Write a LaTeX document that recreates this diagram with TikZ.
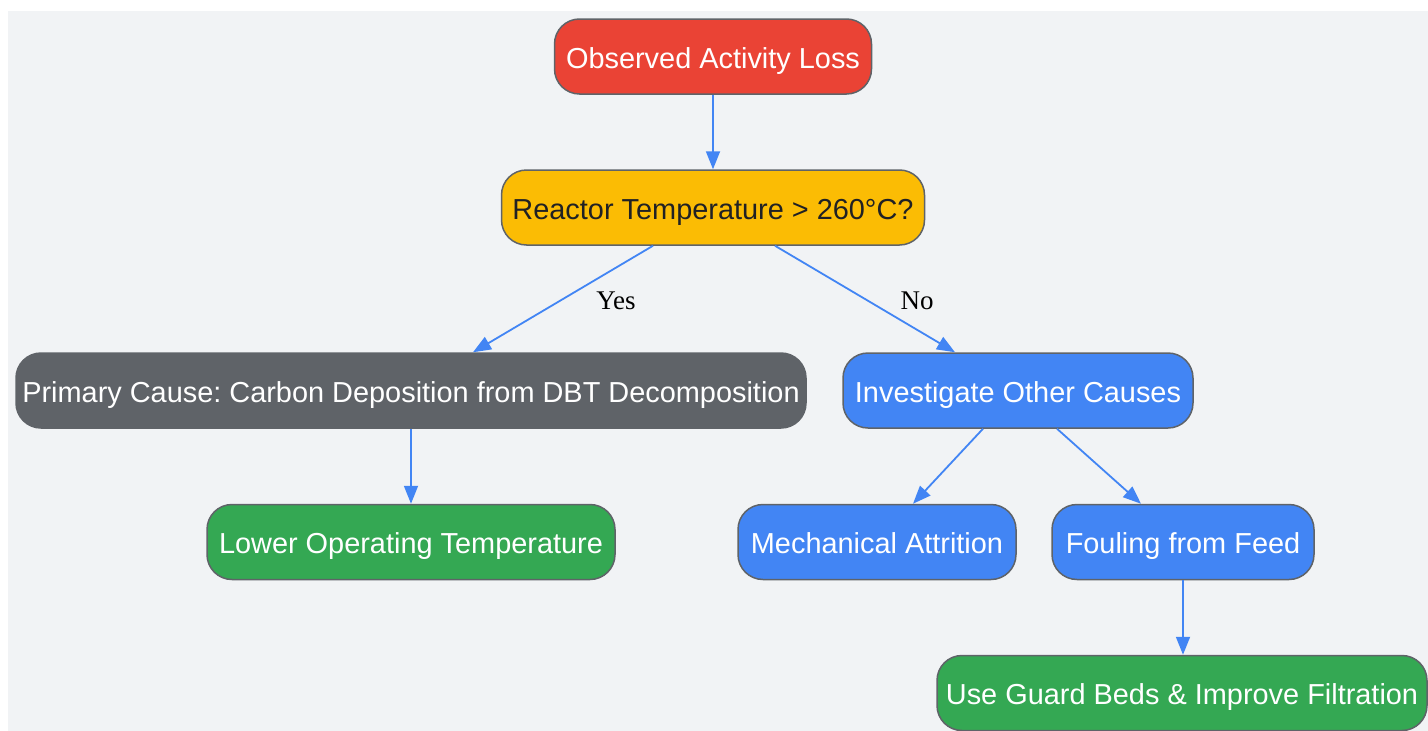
\documentclass[tikz,border=0pt]{standalone}
\usepackage{fontspec}
\usetikzlibrary{arrows.meta}
\newfontfamily\boxfont{Liberation Sans}
\newfontfamily\labelfont{Liberation Serif}
\definecolor{bgcol}{HTML}{F1F3F5}
\definecolor{linecol}{HTML}{4285F4}
\definecolor{edgecol}{HTML}{5F6368}
\definecolor{redcol}{HTML}{EA4335}
\definecolor{yellowcol}{HTML}{FBBC04}
\definecolor{greycol}{HTML}{5F6368}
\definecolor{bluecol}{HTML}{4285F4}
\definecolor{greencol}{HTML}{34A853}
\definecolor{darktext}{HTML}{202124}
\frenchspacing

\begin{document}
\begin{tikzpicture}[x=1pt, y=-1pt,
	box/.style = {draw=edgecol, line width=1.5pt, rounded corners=25pt,
		minimum height=75pt, inner sep=0pt, text height=23.6pt, text depth=0pt,
		text=white, font=\boxfont\fontsize{28.9}{34}\selectfont},
	flow/.style = {draw=linecol, line width=1.8pt, -{Triangle[length=18pt,width=14pt]}},
	answer/.style = {font=\labelfont\fontsize{27}{30}\selectfont, text=black}]
	\useasboundingbox (0,0) rectangle (1428,731);
	\fill[bgcol] (8,11) rectangle (1428,731);
	\node[box, fill=redcol, minimum width=317pt]  (loss)    at (713,56.5)  {Observed Activity Loss};
	\node[box, fill=yellowcol, text=darktext, minimum width=423pt] (temp) at (713,207.5) {Reactor Temperature > 260°C?};
	\node[box, fill=greycol, minimum width=790pt] (carbon)  at (411,390.5) {Primary Cause: Carbon Deposition from DBT Decomposition};
	\node[box, fill=bluecol, minimum width=350pt] (other)   at (1018,390.5) {Investigate Other Causes};
	\node[box, fill=greencol, minimum width=408pt] (lower)  at (411,542)   {Lower Operating Temperature};
	\node[box, fill=bluecol, minimum width=278pt] (attrition) at (877,542) {Mechanical Attrition};
	\node[box, fill=bluecol, minimum width=262pt] (fouling) at (1183,542)  {Fouling from Feed};
	\node[box, fill=greencol, minimum width=490pt] (guard)  at (1182,693)  {Use Guard Beds \& Improve Filtration};
	\draw[flow] (loss) -- (temp);
	\draw[flow] ([xshift=-60pt]temp.south) -- node[answer, xshift=53pt, yshift=-2pt] {Yes} ([xshift=62pt]carbon.north);
	\draw[flow] ([xshift=62pt]temp.south) -- node[answer, xshift=52pt, yshift=-2pt] {No} ([xshift=-63pt]other.north);
	\draw[flow] (carbon) -- (lower);
	\draw[flow] ([xshift=-35pt]other.south) -- ([xshift=36pt]attrition.north);
	\draw[flow] ([xshift=39pt]other.south) -- ([xshift=-42pt]fouling.north);
	\draw[flow] (fouling) -- ([xshift=1pt]guard.north);
\end{tikzpicture}
\end{document}
